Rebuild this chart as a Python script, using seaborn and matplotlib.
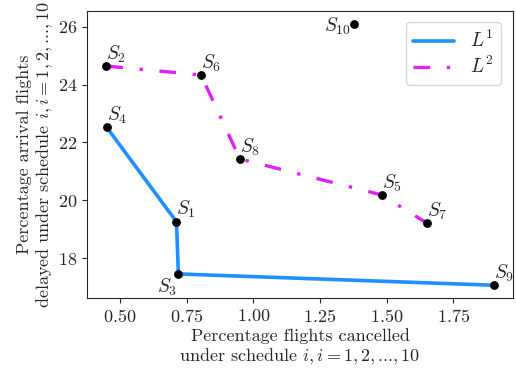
import matplotlib
matplotlib.use("Agg")
import matplotlib.pyplot as plt
import seaborn as sns
import pandas as pd

sns.set_style("ticks")
plt.rcParams["font.family"] = ["cmr10", "DejaVu Serif"]
plt.rcParams["mathtext.fontset"] = "cm"
plt.rcParams["axes.formatter.use_mathtext"] = True

names = ["S1", "S2", "S3", "S4", "S5", "S6", "S7", "S8", "S9", "S10"]
labels = [r"$S_{1}$", r"$S_{2}$", r"$S_{3}$", r"$S_{4}$", r"$S_{5}$",
          r"$S_{6}$", r"$S_{7}$", r"$S_{8}$", r"$S_{9}$", r"$S_{10}$"]
cancelled = [0.712, 0.449, 0.719, 0.450, 1.481, 0.804, 1.652, 0.950, 1.901, 1.377]
delayed = [19.26, 24.64, 17.46, 22.53, 20.19, 24.33, 19.21, 21.43, 17.07, 26.10]
front1 = ["S4", "S1", "S3", "S9"]
front2 = ["S2", "S6", "S8", "S5", "S7"]

df = pd.DataFrame({"name": names, "label": labels, "x": cancelled, "y": delayed}).set_index("name")
d1 = df.loc[front1].reset_index()
d2 = df.loc[front2].reset_index()

fig = plt.figure(figsize=(5.16, 3.74), dpi=100)
ax = fig.add_axes([0.1686, 0.2024, 0.8254, 0.769])

sns.lineplot(data=d1, x="x", y="y", sort=False, ax=ax, color="#1e90ff",
             lw=2.6, label=r"$L^1$", zorder=2)
sns.lineplot(data=d2, x="x", y="y", sort=False, ax=ax, color="#e020f5",
             lw=2.4, linestyle=(0, (5, 5, 1, 5)), label=r"$L^2$", zorder=2)
sns.scatterplot(data=df, x="x", y="y", ax=ax, color="black", s=40,
                edgecolor="black", linewidth=0, zorder=3)

for name, row in df.iterrows():
    if name == "S3":
        off, ha, va = (-1, -2), "right", "top"
    elif name == "S10":
        off, ha, va = (-2, -2), "right", "center"
    else:
        off, ha, va = (0, 1), "left", "bottom"
    ax.annotate(row["label"], (row["x"], row["y"]), xytext=off,
                textcoords="offset points", ha=ha, va=va, fontsize=14, zorder=4)

ax.set_xticks([0.5, 0.75, 1.0, 1.25, 1.5, 1.75])
ax.set_yticks([18, 20, 22, 24, 26])
ax.tick_params(labelsize=13)
ax.set_xlabel("Percentage flights cancelled\nunder schedule $i, i = 1, 2,$...$, 10$",
              fontsize=13, labelpad=2)
ax.set_ylabel("Percentage arrival flights\ndelayed under schedule $i, i = 1, 2,$...$, 10$",
              fontsize=13, labelpad=2)
ax.legend(loc="upper right", fontsize=14, handlelength=2.1, labelspacing=0.25,
          borderaxespad=0.6, frameon=True)

fig.savefig("out.png", dpi=100)
